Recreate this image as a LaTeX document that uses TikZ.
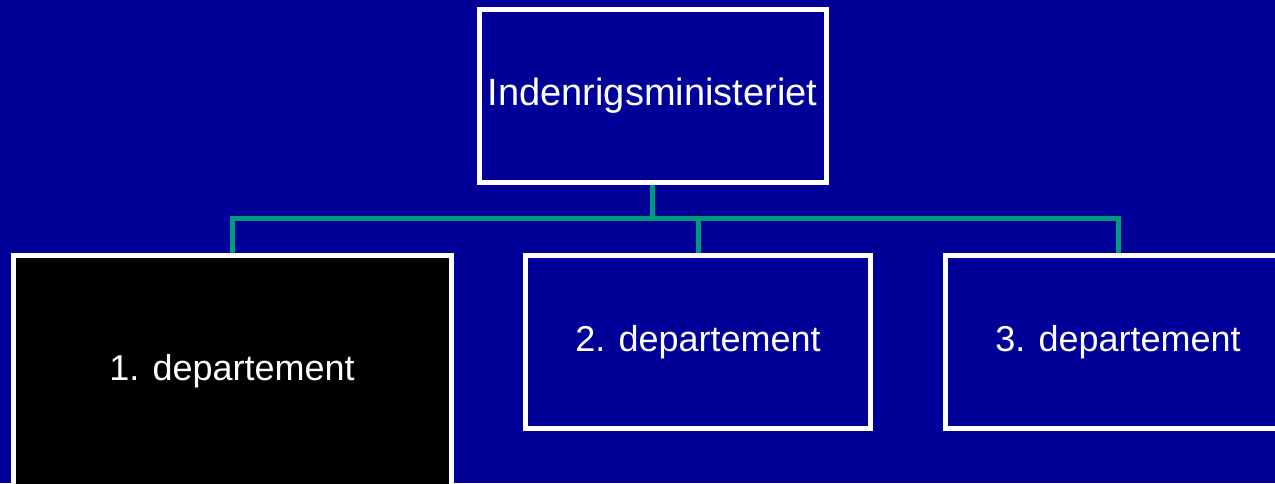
\documentclass[tikz,border=0pt]{standalone}
\usepackage{fontspec}
\setmainfont{Liberation Sans}
\definecolor{bgblue}{RGB}{0,0,153}
\definecolor{linkgreen}{RGB}{0,155,120}
\begin{document}
\begin{tikzpicture}[x=1pt,y=-1pt,
  orgbox/.style={draw=white, line width=5pt, fill=bgblue, text=white, inner sep=0pt,
    font=\fontsize{36}{43}\selectfont},
  link/.style={draw=linkgreen, line width=5pt}]
\useasboundingbox (0,0) rectangle (1275,483);
\clip (0,0) rectangle (1275,483);
\fill[bgblue] (0,0) rectangle (1275,483);
\node[orgbox, font=\fontsize{38}{45}\selectfont, minimum width=347pt, minimum height=173pt] (top) at (652.5,95.5) {Indenrigsministeriet};
\node[orgbox, fill=black, minimum width=438pt, minimum height=232pt] (d1) at (232,371) {1. departement};
\node[orgbox, minimum width=345pt, minimum height=173.5pt] (d2) at (698,341.75) {2. departement};
\node[orgbox, minimum width=346pt, minimum height=173.5pt] (d3) at (1118,341.75) {3. departement};
\coordinate (bus) at (652.5,218);
\draw[link] (top.south) -- (bus);
\draw[link] (d1.north) |- (bus);
\draw[link] (d3.north) |- (bus);
\draw[link] (d2.north) -- (d2.north |- bus);
\end{tikzpicture}
\end{document}
